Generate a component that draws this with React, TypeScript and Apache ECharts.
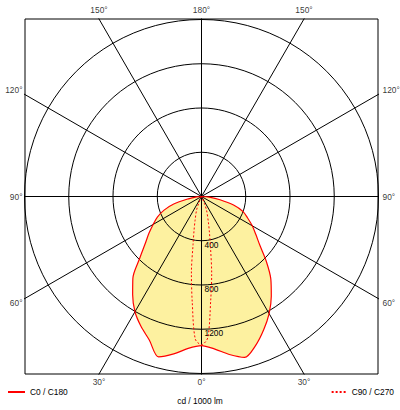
import React, { useEffect, useRef } from 'react';
import * as echarts from 'echarts';

// Photometric angles (gamma, degrees from nadir)
const gammaAngles = [0, 5, 10, 15, 20, 25, 30, 35, 40, 45, 50, 55, 60, 65, 70, 75, 80, 85, 90];
// C0 half-plane (right side) and C180 half-plane (left side), cd / 1000 lm
const c0Values = [1348, 1385, 1450, 1505, 1432, 1330, 1222, 1100, 975, 828, 690, 600, 530, 460, 400, 300, 170, 70, 0];
const c180Values = [1348, 1378, 1445, 1500, 1380, 1295, 1203, 1085, 965, 790, 665, 580, 505, 440, 360, 260, 120, 45, 0];

// C90 / C270 plane
const c90Angles = [0, 2.5, 5, 7.5, 10, 12.5, 15, 20, 22.5, 25];
const c90Values = [1340, 1280, 950, 705, 470, 330, 240, 135, 70, 0];
const c270Values = [1340, 1290, 960, 700, 440, 310, 225, 130, 60, 0];

const radiusTicks = [400, 800, 1200];
const radiusMax = 1600;
const gridAngles = [0, 30, 60, 90, 120, 150, 180];

const seriesNameSolid = 'C0 / C180';
const seriesNameDotted = 'C90 / C270';
const axisTitle = 'cd / 1000 lm';

// layout (px)
const BOX_LEFT = 25;
const BOX_TOP = 19;
const BOX_W = 353;
const BOX_H = 355;
const RADIUS_PX = 177;
const FONT = '"Liberation Sans", Arial, Helvetica, sans-serif';
const FS = 8.4;

export default function App() {
  const ref = useRef<HTMLDivElement>(null);

  useEffect(() => {
    if (!ref.current) return;
    const chart = echarts.init(ref.current, undefined, { renderer: 'svg' });

    const cx = BOX_LEFT + BOX_W / 2;
    const cy = BOX_TOP + BOX_H / 2;
    const unitPerPx = radiusMax / RADIUS_PX;
    const xMax = (BOX_W / 2) * unitPerPx;
    const yMax = (BOX_H / 2) * unitPerPx;

    // solid curve: left side (C180) from 90 -> 0, then right side (C0) 0 -> 90
    const solidData: number[][] = [];
    for (let i = gammaAngles.length - 1; i >= 0; i--) solidData.push([c180Values[i], gammaAngles[i]]);
    for (let i = 1; i < gammaAngles.length; i++) solidData.push([c0Values[i], 360 - gammaAngles[i]]);

    const dottedData: number[][] = [];
    for (let i = c90Angles.length - 1; i >= 0; i--) dottedData.push([c270Values[i], c90Angles[i]]);
    for (let i = 1; i < c90Angles.length; i++) dottedData.push([c90Values[i], 360 - c90Angles[i]]);

    // grid rays (to box edges) and edge labels
    const rays: any[] = [];
    const edgeLabels: any[] = [];
    gridAngles.forEach((g) => {
      const sides = g === 0 || g === 180 ? [1] : [-1, 1];
      sides.forEach((s) => {
        const rad = (g * Math.PI) / 180;
        const dx = s * Math.sin(rad);
        const dy = -Math.cos(rad);
        const tx = Math.abs(dx) > 1e-9 ? xMax / Math.abs(dx) : Infinity;
        const ty = Math.abs(dy) > 1e-9 ? yMax / Math.abs(dy) : Infinity;
        const t = Math.min(tx, ty);
        const px = Math.abs(t * dx) < 1e-6 ? 0 : t * dx;
        const py = Math.abs(t * dy) < 1e-6 ? 0 : t * dy;
        rays.push({ coords: [[0, 0], [dx * 5000, dy * 5000]] });
        let label: any;
        if (tx < ty) {
          const off = g < 90 ? 4.5 : g > 90 ? -4.5 : 0;
          label = s < 0
            ? { position: 'left', distance: 2, offset: [0, off] }
            : { position: 'right', distance: 4, offset: [0, off] };
        } else if (dy > 0) {
          label = { position: 'top', distance: 5 };
        } else {
          label = { position: 'bottom', distance: 3 };
        }
        edgeLabels.push({ value: [px, py], name: `${g}°`, label });
      });
    });

    const textStyle = { fontFamily: FONT, fontSize: FS, color: '#000' };
    const legendCommon = {
      top: 388,
      padding: 0,
      itemHeight: 8,
      selectedMode: false,
      textStyle,
      itemStyle: { color: 'rgba(0,0,0,0)', borderWidth: 0, opacity: 0 },
    };

    chart.setOption({
      animation: false,
      backgroundColor: '#fff',
      title: {
        text: axisTitle,
        left: 'center',
        top: 397,
        padding: 0,
        textStyle: { ...textStyle, fontWeight: 'normal' },
      },
      legend: [
        { ...legendCommon, data: [seriesNameSolid], left: 7, itemWidth: 17 },
        { ...legendCommon, data: [seriesNameDotted], right: 6, itemWidth: 15 },
      ],
      grid: {
        left: BOX_LEFT,
        top: BOX_TOP,
        width: BOX_W,
        height: BOX_H,
        show: true,
        borderColor: '#000',
        borderWidth: 1,
        backgroundColor: 'transparent',
        z: 3,
      },
      xAxis: { type: 'value', min: -xMax, max: xMax, show: false },
      yAxis: { type: 'value', min: -yMax, max: yMax, show: false },
      polar: { center: [cx, cy], radius: RADIUS_PX },
      angleAxis: {
        type: 'value',
        min: 0,
        max: 360,
        startAngle: 270,
        clockwise: true,
        axisLine: { show: false },
        axisTick: { show: false },
        axisLabel: { show: false },
        splitLine: { show: false },
      },
      radiusAxis: {
        type: 'value',
        min: 0,
        max: radiusMax,
        interval: 400,
        z: 3,
        axisLine: { show: false },
        axisTick: { show: false },
        axisLabel: {
          show: true,
          ...textStyle,
          margin: 3,
          verticalAlign: 'top',
          align: 'left',
          formatter: (v: number) => (radiusTicks.includes(v) ? String(v) : ''),
        },
        splitLine: { show: true, lineStyle: { color: '#000', width: 1 } },
      },
      series: [
        {
          name: 'fill',
          type: 'line',
          coordinateSystem: 'polar',
          data: solidData,
          smooth: 0.3,
          symbol: 'none',
          lineStyle: { width: 0, opacity: 0 },
          areaStyle: { color: '#fdf1a0', opacity: 1 },
          z: 1,
          silent: true,
        },
        {
          name: 'rays',
          type: 'lines',
          coordinateSystem: 'cartesian2d',
          data: rays,
          clip: true,
          lineStyle: { color: '#000', width: 1, opacity: 1 },
          z: 3,
          silent: true,
        },
        {
          name: 'edgeLabels',
          type: 'scatter',
          coordinateSystem: 'cartesian2d',
          data: edgeLabels,
          symbolSize: 1,
          clip: false,
          itemStyle: { color: 'rgba(0,0,0,0)' },
          label: { show: true, formatter: '{b}', ...textStyle },
          z: 5,
          silent: true,
        },
        {
          name: seriesNameSolid,
          type: 'line',
          coordinateSystem: 'polar',
          data: solidData,
          smooth: 0.3,
          symbol: 'none',
          lineStyle: { color: '#ff0000', width: 1.2 },
          itemStyle: { color: '#ff0000' },
          z: 4,
          silent: true,
        },
        {
          name: seriesNameDotted,
          type: 'line',
          coordinateSystem: 'polar',
          data: dottedData,
          smooth: 0.3,
          symbol: 'none',
          lineStyle: { color: '#ff0000', width: 1, type: [2, 2] },
          itemStyle: { color: '#ff0000' },
          z: 4,
          silent: true,
        },
      ],
    });

    return () => chart.dispose();
  }, []);

  return (
    <div
      ref={ref}
      style={{ position: 'absolute', left: 0, top: 0, width: 400, height: 410 }}
    />
  );
}
